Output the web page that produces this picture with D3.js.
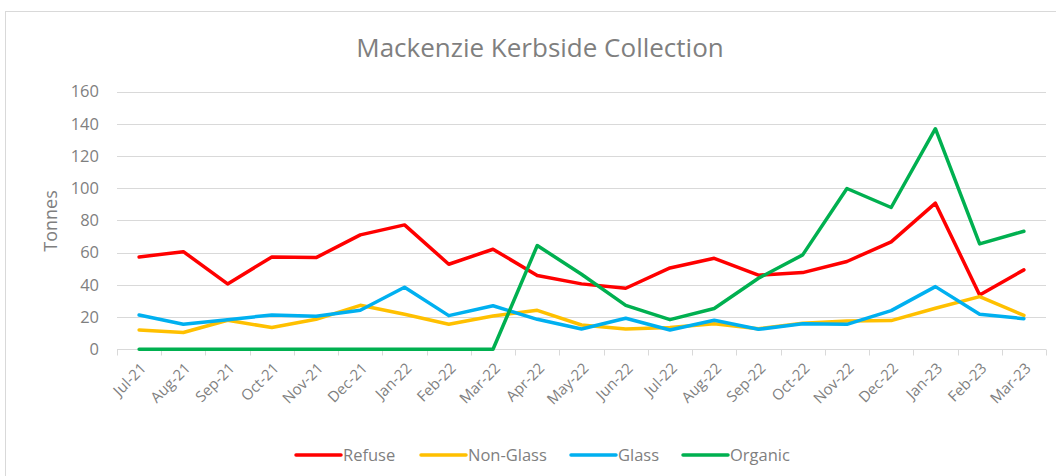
<!DOCTYPE html>
<meta charset="utf-8">
<style>

body {
  margin: 0;
  background: #fff;
}

text {
  font-family: "Open Sans", sans-serif;
  fill: #7f7f7f;
}

.grid line {
  stroke: #d9d9d9;
  stroke-width: 1px;
}

.series {
  fill: none;
  stroke-width: 3.5px;
  stroke-linejoin: round;
  stroke-linecap: round;
}

</style>
<body>
<svg width="1056" height="476"></svg>
</body>
<script src="https://cdn.jsdelivr.net/npm/d3@7"></script>
<script>

var months = ["Jul-21", "Aug-21", "Sep-21", "Oct-21", "Nov-21", "Dec-21", "Jan-22",
  "Feb-22", "Mar-22", "Apr-22", "May-22", "Jun-22", "Jul-22", "Aug-22", "Sep-22",
  "Oct-22", "Nov-22", "Dec-22", "Jan-23", "Feb-23", "Mar-23"];

var refuse   = [57.3, 60.6, 40.6, 57.3, 56.9, 71.0, 77.2, 52.8, 62.1, 45.8, 40.6,
  37.9, 50.5, 56.5, 46.0, 47.6, 54.5, 66.7, 90.7, 33.7, 49.3];
var nonGlass = [12.0, 10.4, 18.0, 13.5, 18.6, 27.3, 21.7, 15.5, 20.7, 24.2, 15.1,
  12.6, 13.5, 15.8, 12.8, 16.1, 17.6, 17.8, 25.5, 32.7, 21.0];
var glass    = [21.3, 15.5, 18.4, 21.3, 20.5, 24.2, 38.5, 20.9, 27.0, 18.6, 12.6,
  19.3, 12.0, 18.0, 12.4, 15.9, 15.5, 24.0, 38.9, 21.7, 19.0];
var organic  = [0, 0, 0, 0, 0, 0, 0, 0, 0, 64.4, 46.6,
  27.3, 18.4, 25.3, 44.1, 58.6, 99.8, 88.0, 136.9, 65.4, 73.3];

var seriesNames = ["Refuse", "Non-Glass", "Glass", "Organic"];
var seriesColors = ["#ff0000", "#ffc000", "#00b0f0", "#00b050"];
var yTicks = [0, 20, 40, 60, 80, 100, 120, 140, 160];

var series = [refuse, nonGlass, glass, organic].map(function(v, i) {
  return {name: seriesNames[i], color: seriesColors[i], values: v};
});

var plotLeft = 117, plotRight = 1046, plotTop = 91.5, plotBottom = 349.3;

var svg = d3.select("svg");

// chart frame
svg.append("rect")
    .attr("x", 5.5)
    .attr("y", 11.5)
    .attr("width", 1100)
    .attr("height", 520)
    .style("fill", "none")
    .style("stroke", "#d9d9d9");

var x = d3.scaleBand()
    .domain(months)
    .range([plotLeft, plotRight]);

var y = d3.scaleLinear()
    .domain([0, 160])
    .range([plotBottom, plotTop]);

// gridlines
svg.append("g")
    .attr("class", "grid")
  .selectAll("line")
    .data(yTicks)
  .enter().append("line")
    .attr("x1", plotLeft)
    .attr("x2", plotRight)
    .attr("y1", function(d) { return Math.round(y(d)) + 0.5; })
    .attr("y2", function(d) { return Math.round(y(d)) + 0.5; });

// category tick marks
var bounds = months.map(function(m) { return x(m); }).concat([plotRight]);
svg.append("g")
    .attr("class", "grid")
  .selectAll("line")
    .data(bounds)
  .enter().append("line")
    .attr("x1", function(d) { return Math.round(d) + 0.5; })
    .attr("x2", function(d) { return Math.round(d) + 0.5; })
    .attr("y1", Math.round(plotBottom) + 0.5)
    .attr("y2", Math.round(plotBottom) + 6.5);

// y axis labels
var yAxis = svg.append("g")
    .attr("transform", "translate(" + plotLeft + ",0)")
    .call(d3.axisLeft(y).tickValues(yTicks).tickSize(0).tickPadding(18));
yAxis.select(".domain").remove();
yAxis.selectAll("text")
    .style("font-family", "'Open Sans', sans-serif")
    .style("font-size", "16.5px")
    .style("fill", "#7f7f7f");

// x axis labels
var xAxis = svg.append("g")
    .attr("transform", "translate(0," + plotBottom + ")")
    .call(d3.axisBottom(x).tickSize(0).tickPadding(0));
xAxis.select(".domain").remove();
xAxis.selectAll("text")
    .style("font-family", "'Open Sans', sans-serif")
    .style("font-size", "15px")
    .style("fill", "#7f7f7f")
    .attr("text-anchor", "end")
    .attr("dy", null)
    .attr("y", 0)
    .attr("transform", "translate(8,20) rotate(-45)");

// lines
var line = d3.line()
    .x(function(d, i) { return x(months[i]) + x.bandwidth() / 2; })
    .y(function(d) { return y(d); });

svg.selectAll(".series")
    .data(series)
  .enter().append("path")
    .attr("class", "series")
    .attr("d", function(d) { return line(d.values); })
    .style("stroke", function(d) { return d.color; });

// title
svg.append("text")
    .attr("x", 540)
    .attr("y", 57)
    .attr("text-anchor", "middle")
    .style("font-size", "26px")
    .style("fill", "#7f7f7f")
    .text("Mackenzie Kerbside Collection");

// y axis title
svg.append("text")
    .attr("transform", "translate(57,221) rotate(-90)")
    .attr("text-anchor", "middle")
    .style("font-size", "18px")
    .text("Tonnes");

// legend
var legendX = [296, 421, 571, 683];
var legend = svg.selectAll(".legend")
    .data(series)
  .enter().append("g")
    .attr("class", "legend")
    .attr("transform", function(d, i) { return "translate(" + legendX[i] + ",455)"; });

legend.append("line")
    .attr("x1", 0)
    .attr("x2", 45)
    .style("stroke", function(d) { return d.color; })
    .style("stroke-width", "3.5px")
    .style("stroke-linecap", "round");

legend.append("text")
    .attr("x", 47)
    .attr("dy", "0.35em")
    .style("font-size", "16.5px")
    .text(function(d) { return d.name; });

</script>
